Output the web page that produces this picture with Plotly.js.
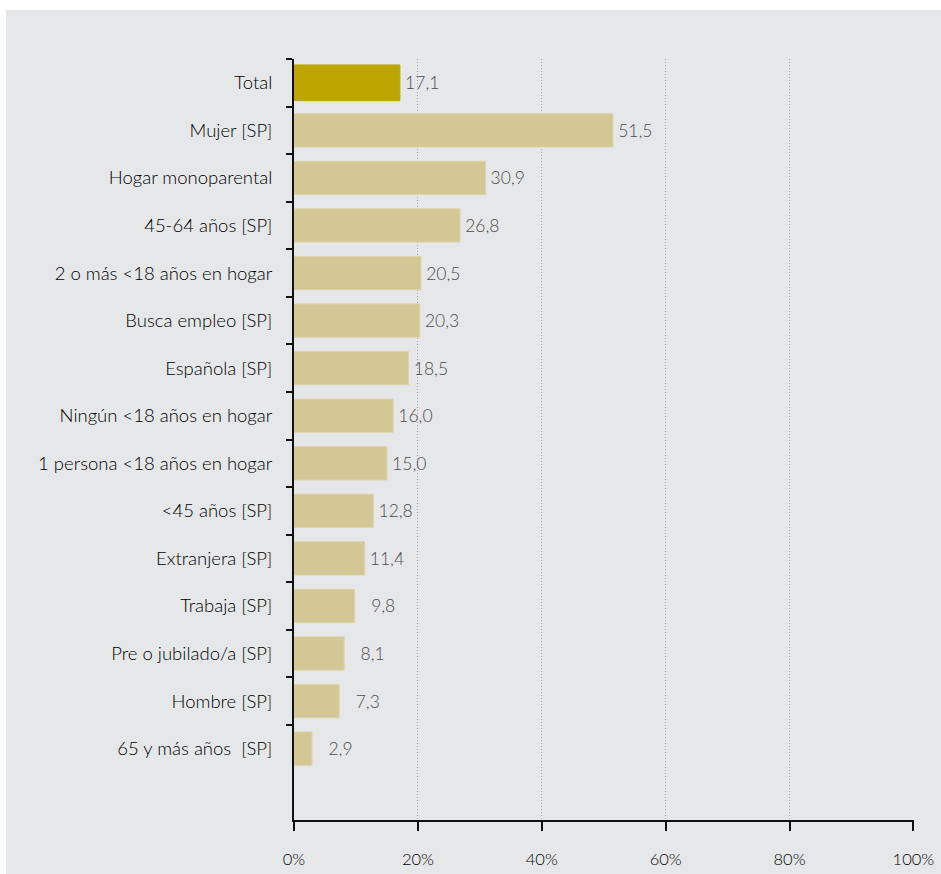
<!DOCTYPE html>
<html>
<head>
<meta charset="utf-8">
<script src="https://cdn.plot.ly/plotly-3.0.1.min.js"></script>
<style>
html,body{margin:0;padding:0;background:#ffffff;}
#chart{position:absolute;left:6px;top:10px;width:935px;height:864px;}
</style>
</head>
<body>
<div id="chart"></div>
<script>
const categories = [
  "Total",
  "Mujer [SP]",
  "Hogar monoparental",
  "45-64 años [SP]",
  "2 o más <18 años en hogar",
  "Busca empleo [SP]",
  "Española [SP]",
  "Ningún <18 años en hogar",
  "1 persona <18 años en hogar",
  "<45 años [SP]",
  "Extranjera [SP]",
  "Trabaja [SP]",
  "Pre o jubilado/a [SP]",
  "Hombre [SP]",
  "65 y más años  [SP]"
];
const values = [17.1, 51.5, 30.9, 26.8, 20.5, 20.3, 18.5, 16.0, 15.0, 12.8, 11.4, 9.8, 8.1, 7.3, 2.9];
const xTicks = [0, 20, 40, 60, 80, 100];
const xTickLabels = ["0%", "20%", "40%", "60%", "80%", "100%"];

const fmt = v => {
  const s = v.toFixed(1).replace('.', ',');
  return '\u2009' + (v < 10 ? '\u2007\u200A' : '') + s;
};

const trace = {
  type: 'bar',
  orientation: 'h',
  y: categories,
  x: values,
  width: values.map((v, i) => i === 0 ? 0.75 : 0.7),
  marker: {
    color: values.map((v, i) => i === 0 ? '#bda600' : '#d3c795'),
    line: {color: values.map((v, i) => i === 0 ? '#bda600' : '#dcd3a9'), width: 1}
  },
  text: values.map(fmt),
  textposition: 'outside',
  cliponaxis: false,
  textfont: {family: 'Lato, sans-serif', size: 17.5, color: '#4d4d4d', weight: 300},
  hoverinfo: 'none'
};

const layout = {
  width: 935,
  height: 864,
  paper_bgcolor: '#e6e7e9',
  plot_bgcolor: '#e6e7e9',
  margin: {l: 288, r: 27, t: 49, b: 54},
  showlegend: false,
  font: {family: 'Lato, sans-serif', size: 16, color: '#000000', weight: 300},
  xaxis: {
    range: [0, 100.1],
    tickmode: 'array',
    tickvals: xTicks,
    ticktext: xTickLabels,
    showgrid: true,
    gridcolor: '#a8a8a8',
    griddash: '1px,2px',
    gridwidth: 1,
    zeroline: false,
    showline: true,
    linecolor: '#111111',
    linewidth: 2,
    ticks: 'outside',
    ticklen: 9,
    tickwidth: 2,
    tickcolor: '#111111',
    ticklabelstandoff: 14,
    tickfont: {family: 'Lato, sans-serif', size: 16.5, color: '#000000', weight: 300},
    fixedrange: true
  },
  yaxis: {
    type: 'category',
    categoryorder: 'array',
    categoryarray: categories,
    range: [15.5, -0.5],
    tickson: 'boundaries',
    ticks: 'outside',
    ticklen: 6,
    tickwidth: 2,
    tickcolor: '#111111',
    showline: true,
    linecolor: '#111111',
    linewidth: 2,
    showgrid: false,
    zeroline: false,
    ticklabelstandoff: 16,
    tickfont: {family: 'Lato, sans-serif', size: 18.5, color: '#000000', weight: 300},
    fixedrange: true
  }
};

Plotly.newPlot('chart', [trace], layout, {displayModeBar: false, staticPlot: true});
</script>
</body>
</html>
